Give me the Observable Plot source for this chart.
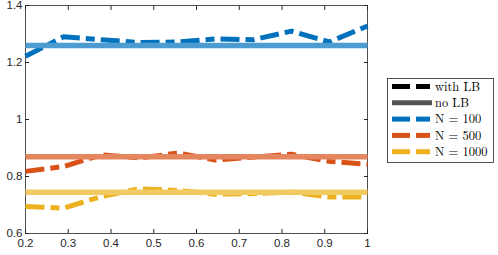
<!DOCTYPE html>
<html><head><meta charset="utf-8">
<script src="https://cdn.jsdelivr.net/npm/d3@7"></script>
<script src="https://cdn.jsdelivr.net/npm/@observablehq/plot@0.6"></script>
<style>body{margin:0;background:#fff}</style>
</head><body><div id="chart"></div>
<script>
const xs = [0.2, 0.289, 0.378, 0.467, 0.556, 0.644, 0.733, 0.822, 0.911, 1.0];
const n100 = [1.222, 1.29, 1.28, 1.27, 1.272, 1.283, 1.28, 1.31, 1.272, 1.328];
const n500 = [0.818, 0.835, 0.876, 0.865, 0.882, 0.858, 0.868, 0.878, 0.853, 0.843];
const n1000 = [0.695, 0.689, 0.73, 0.757, 0.751, 0.738, 0.74, 0.745, 0.728, 0.728];
const noLB = [1.26, 0.869, 0.745];
const seriesNames = ["N = 100", "N = 500", "N = 1000"];
const darkColors = ["#0072BD", "#D95319", "#EDB120"];
const lightColors = ["#4C9CD1", "#E4865E", "#F2CA62"];
const xTicks = [0.2, 0.3, 0.4, 0.5, 0.6, 0.7, 0.8, 0.9, 1];
const yTicks = [0.6, 0.8, 1, 1.2, 1.4];

const series = [n100, n500, n1000];
const withRows = series.flatMap((vals, i) => vals.map((v, j) => ({x: xs[j], y: v, s: seriesNames[i]})));
const flatRows = noLB.map((v, i) => [{x: xs[0], y: v, s: seriesNames[i]}, {x: xs[xs.length-1], y: v, s: seriesNames[i]}]).flat();

const axisColor = "#262626";
const fmt = d => d3.format("")(+d.toFixed(2));
const svg = Plot.plot({
  width: 498, height: 255,
  marginLeft: 25, marginRight: 131, marginTop: 5, marginBottom: 22,
  style: {fontFamily: "'Liberation Sans', Arial, sans-serif", fontSize: "11.5px", color: axisColor, background: "#fff"},
  x: {domain: [0.2, 1]},
  y: {domain: [0.6, 1.4]},
  marks: [
    Plot.frame({stroke: axisColor, strokeWidth: 0.8}),
    ...seriesNames.map((s, i) => Plot.line(withRows.filter(d => d.s === s), {x: "x", y: "y", stroke: darkColors[i], strokeWidth: 5, strokeDasharray: "19,6,9,6", strokeLinecap: "butt", strokeLinejoin: "miter"})),
    ...seriesNames.map((s, i) => Plot.line(flatRows.filter(d => d.s === s), {x: "x", y: "y", stroke: lightColors[i], strokeWidth: 5.5, strokeLinecap: "butt"})),
    Plot.axisX(xTicks, {anchor: "bottom", tickSize: -4, tickPadding: 9, tickFormat: fmt, stroke: axisColor, fill: axisColor, label: null}),
    Plot.axisX(xTicks, {anchor: "top", tickSize: -4, tickFormat: () => "", stroke: axisColor, label: null}),
    Plot.axisY(yTicks, {anchor: "left", tickSize: -4, tickPadding: 7, tickFormat: fmt, stroke: axisColor, fill: axisColor, label: null}),
    Plot.axisY(yTicks, {anchor: "right", tickSize: -4, tickFormat: () => "", stroke: axisColor, label: null})
  ]
});
document.getElementById("chart").appendChild(svg);

// Legend
const legendItems = [
  {label: "with LB", color: "#000000", dashed: true},
  {label: "no LB", color: "#555555", dashed: false},
  ...seriesNames.map((s, i) => ({label: s, color: darkColors[i], dashed: true}))
];
const lg = d3.select(svg).append("g").attr("text-anchor", "start");
lg.append("rect").attr("x", 387.5).attr("y", 78.5).attr("width", 106).attr("height", 84)
  .attr("fill", "#fff").attr("stroke", axisColor).attr("stroke-width", 0.8);
legendItems.forEach((it, i) => {
  const y = 86.5 + i * 16.3;
  const g = lg.append("g");
  if (it.dashed) {
    g.append("line").attr("x1", 392).attr("x2", 410).attr("y1", y).attr("y2", y).attr("stroke", it.color).attr("stroke-width", 5);
    g.append("line").attr("x1", 416).attr("x2", 430).attr("y1", y).attr("y2", y).attr("stroke", it.color).attr("stroke-width", 5);
  } else {
    g.append("line").attr("x1", 392).attr("x2", 432).attr("y1", y).attr("y2", y).attr("stroke", it.color).attr("stroke-width", 5);
  }
  g.append("text").attr("x", 435).attr("y", y).attr("dy", "0.35em").attr("text-anchor", "start")
    .attr("font-family", "'Latin Modern Roman','Liberation Serif','DejaVu Serif',serif").attr("font-size", 12.5)
    .attr("fill", "#000").text(it.label);
});
</script>
</body></html>
